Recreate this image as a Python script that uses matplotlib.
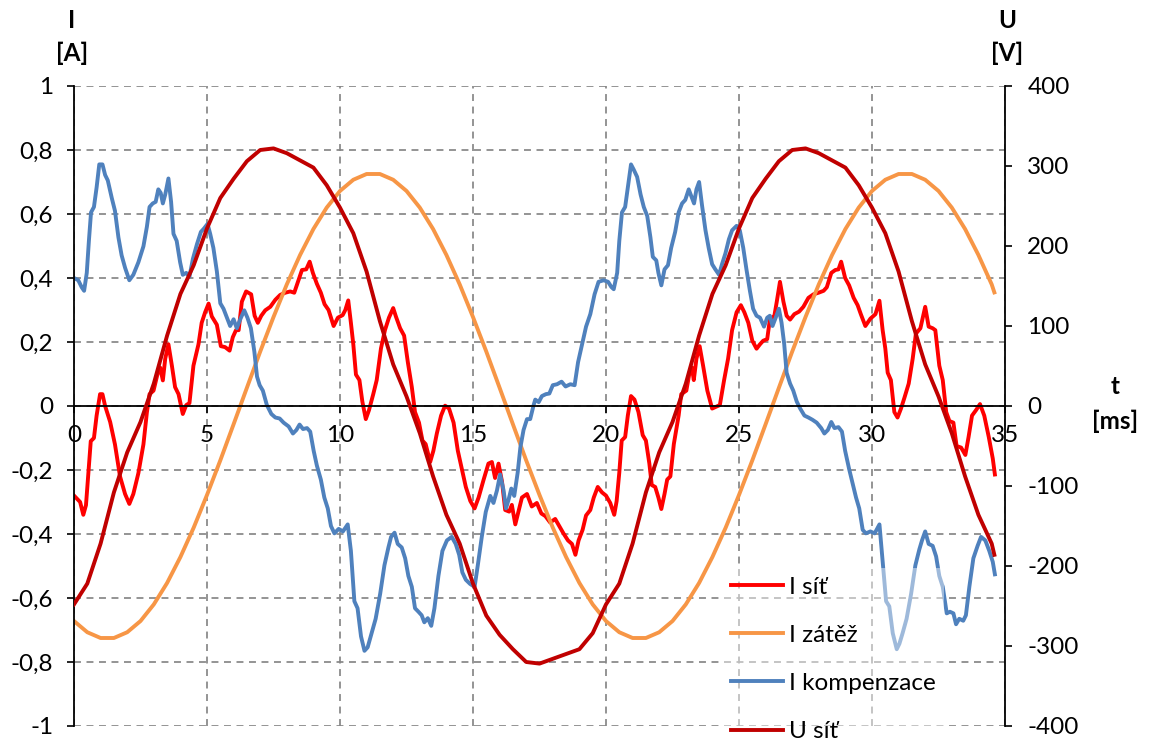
import numpy as np
import matplotlib
matplotlib.use("Agg")
import matplotlib.pyplot as plt
from matplotlib.ticker import FuncFormatter, MultipleLocator

plt.rcParams['font.family'] = ['Lato', 'DejaVu Sans']

# time base for the two smooth curves [ms]
t_grid = np.append(np.arange(0, 34.51, 0.5), 34.6)

# load current [A], read every 0.5 ms
i_zatez = [-0.672, -0.707, -0.725, -0.725, -0.707, -0.672, -0.620, -0.553, -0.472, -0.380,
           -0.278, -0.170, -0.057, 0.057, 0.170, 0.278, 0.380, 0.472, 0.553, 0.620,
           0.672, 0.707, 0.725, 0.725, 0.707, 0.672, 0.620, 0.553, 0.472, 0.380,
           0.278, 0.170, 0.057, -0.057, -0.170, -0.278, -0.380, -0.472, -0.553, -0.620,
           -0.672, -0.707, -0.725, -0.725, -0.707, -0.672, -0.620, -0.553, -0.472, -0.380,
           -0.278, -0.170, -0.057, 0.057, 0.170, 0.278, 0.380, 0.472, 0.553, 0.620,
           0.672, 0.707, 0.725, 0.725, 0.707, 0.672, 0.620, 0.553, 0.472, 0.380,
           0.355]

# grid voltage [V], read every 0.5 ms
u_sit = [-248, -222, -172, -108, -58, -20, 28, 88, 140, 176,
         222, 260, 284, 306, 320, 322, 316, 307, 298, 276,
         248, 216, 168, 106, 52, 12, -34, -88, -136, -172,
         -222, -262, -286, -304, -320, -322, -316, -310, -304, -284,
         -248, -222, -172, -108, -58, -20, 28, 88, 140, 176,
         222, 260, 284, 306, 320, 322, 316, 307, 298, 276,
         248, 216, 168, 106, 52, 12, -34, -88, -136, -172,
         -186]

# grid current [A]
t_sit = [0.0, 0.23, 0.35, 0.45, 0.54, 0.63, 0.75, 0.85, 0.98, 1.07,
         1.17, 1.36, 1.54, 1.73, 1.92, 2.08, 2.23, 2.42, 2.61, 2.74,
         2.84, 2.99, 3.14, 3.24, 3.34, 3.43, 3.55, 3.68, 3.8, 3.93,
         4.09, 4.22, 4.34, 4.49, 4.68, 4.8, 4.93, 5.06, 5.18, 5.37,
         5.52, 5.68, 5.85, 5.97, 6.09, 6.19, 6.31, 6.47, 6.66, 6.79,
         6.91, 7.04, 7.19, 7.38, 7.57, 7.75, 7.94, 8.13, 8.28, 8.44,
         8.57, 8.73, 8.86, 8.98, 9.13, 9.28, 9.42, 9.57, 9.76, 9.92,
         10.1, 10.2, 10.31, 10.41, 10.5, 10.6, 10.73, 10.84, 10.97, 11.09,
         11.25, 11.38, 11.54, 11.69, 11.84, 12.0, 12.1, 12.26, 12.41, 12.55,
         12.7, 12.82, 12.97, 13.1, 13.22, 13.39, 13.51, 13.64, 13.8, 13.95,
         14.1, 14.27, 14.43, 14.58, 14.73, 14.9, 15.06, 15.21, 15.4, 15.58,
         15.71, 15.83, 15.96, 16.09, 16.21, 16.36, 16.46, 16.59, 16.71, 16.84,
         17.03, 17.21, 17.4, 17.57, 17.72, 17.9, 18.09, 18.24, 18.4, 18.57,
         18.72, 18.85, 18.97, 19.12, 19.25, 19.41, 19.54, 19.69, 19.85, 20.0,
         20.16, 20.31, 20.4, 20.5, 20.59, 20.72, 20.82, 20.94, 21.07, 21.22,
         21.38, 21.5, 21.63, 21.72, 21.85, 21.97, 22.08, 22.2, 22.3, 22.42,
         22.55, 22.73, 22.83, 23.02, 23.14, 23.23, 23.3, 23.4, 23.52, 23.65,
         23.81, 23.99, 24.15, 24.28, 24.44, 24.59, 24.74, 24.91, 25.07, 25.2,
         25.35, 25.5, 25.66, 25.79, 25.91, 26.06, 26.16, 26.33, 26.42, 26.54,
         26.67, 26.79, 26.92, 27.08, 27.26, 27.42, 27.61, 27.8, 27.99, 28.18,
         28.3, 28.47, 28.62, 28.74, 28.84, 28.99, 29.14, 29.31, 29.46, 29.58,
         29.75, 29.94, 30.13, 30.28, 30.4, 30.5, 30.59, 30.71, 30.84, 30.96,
         31.09, 31.22, 31.38, 31.53, 31.65, 31.82, 32.0, 32.13, 32.28, 32.38,
         32.53, 32.66, 32.79, 32.91, 33.06, 33.18, 33.35, 33.51, 33.63, 33.76,
         33.91, 34.06, 34.22, 34.39, 34.54, 34.62]
i_sit = [-0.28, -0.30, -0.34, -0.31, -0.21, -0.11, -0.10, -0.03, 0.037, 0.037,
         0.0, -0.05, -0.12, -0.22, -0.275, -0.306, -0.275, -0.21, -0.12, -0.02,
         0.037, 0.048, 0.10, 0.12, 0.08, 0.148, 0.193, 0.126, 0.059, 0.037,
         -0.025, 0.003, 0.009, 0.126, 0.193, 0.26, 0.293, 0.32, 0.28, 0.254,
         0.187, 0.184, 0.173, 0.215, 0.237, 0.237, 0.326, 0.358, 0.349, 0.282,
         0.26, 0.282, 0.299, 0.31, 0.332, 0.347, 0.354, 0.358, 0.354, 0.393,
         0.425, 0.427, 0.451, 0.416, 0.382, 0.354, 0.318, 0.30, 0.25, 0.276,
         0.284, 0.30, 0.33, 0.26, 0.193, 0.098, 0.081, 0.014, -0.041, -0.013,
         0.037, 0.081, 0.18, 0.237, 0.276, 0.306, 0.28, 0.243, 0.22, 0.137,
         0.059, -0.019, -0.052, -0.108, -0.119, -0.175, -0.14, -0.086, -0.03, 0.001,
         -0.008, -0.052, -0.14, -0.197, -0.253, -0.297, -0.32, -0.286, -0.23, -0.18,
         -0.175, -0.225, -0.18, -0.236, -0.325, -0.33, -0.309, -0.37, -0.33, -0.286,
         -0.275, -0.314, -0.303, -0.336, -0.344, -0.364, -0.353, -0.375, -0.398, -0.42,
         -0.431, -0.465, -0.42, -0.387, -0.342, -0.325, -0.286, -0.253, -0.27, -0.28,
         -0.303, -0.34, -0.297, -0.208, -0.108, -0.097, -0.03, 0.031, 0.02, -0.019,
         -0.091, -0.108, -0.18, -0.247, -0.253, -0.286, -0.322, -0.275, -0.23, -0.22,
         -0.119, -0.03, 0.037, 0.048, 0.104, 0.12, 0.081, 0.148, 0.187, 0.126,
         0.048, -0.008, -0.002, 0.003, 0.081, 0.148, 0.237, 0.293, 0.315, 0.293,
         0.26, 0.204, 0.179, 0.193, 0.204, 0.209, 0.27, 0.282, 0.326, 0.388,
         0.326, 0.282, 0.27, 0.287, 0.295, 0.31, 0.338, 0.349, 0.354, 0.36,
         0.371, 0.416, 0.425, 0.427, 0.451, 0.40, 0.377, 0.338, 0.315, 0.287,
         0.25, 0.273, 0.287, 0.329, 0.237, 0.18, 0.104, 0.081, -0.019, -0.036,
         -0.008, 0.026, 0.07, 0.148, 0.226, 0.243, 0.31, 0.248, 0.243, 0.237,
         0.126, 0.081, -0.019, -0.047, -0.052, -0.125, -0.13, -0.153, -0.097, -0.03,
         -0.013, 0.006, -0.03, -0.097, -0.164, -0.214]

# compensation current [A]
t_komp = [0.0, 0.16, 0.29, 0.38, 0.48, 0.56, 0.64, 0.75, 0.85, 0.95,
          1.07, 1.17, 1.27, 1.42, 1.54, 1.67, 1.79, 1.92, 2.08, 2.23,
          2.42, 2.61, 2.74, 2.84, 2.96, 3.07, 3.17, 3.26, 3.34, 3.43,
          3.55, 3.65, 3.74, 3.86, 3.99, 4.09, 4.22, 4.34, 4.47, 4.62,
          4.77, 4.89, 5.02, 5.12, 5.24, 5.37, 5.5, 5.62, 5.75, 5.87,
          6.0, 6.12, 6.25, 6.4, 6.52, 6.65, 6.78, 6.88, 6.98, 7.1,
          7.25, 7.42, 7.57, 7.73, 7.88, 8.07, 8.23, 8.36, 8.48, 8.61,
          8.76, 8.88, 9.01, 9.13, 9.28, 9.41, 9.54, 9.66, 9.79, 9.95,
          10.11, 10.29, 10.41, 10.54, 10.66, 10.79, 10.92, 11.04, 11.19, 11.34,
          11.51, 11.67, 11.82, 11.92, 12.05, 12.17, 12.32, 12.45, 12.57, 12.7,
          12.82, 12.95, 13.07, 13.17, 13.3, 13.43, 13.55, 13.7, 13.85, 14.02,
          14.2, 14.35, 14.48, 14.6, 14.73, 14.89, 15.06, 15.18, 15.33, 15.48,
          15.65, 15.77, 15.9, 16.02, 16.15, 16.24, 16.34, 16.44, 16.55, 16.68,
          16.78, 16.9, 17.03, 17.15, 17.28, 17.34, 17.47, 17.59, 17.74, 17.87,
          18.0, 18.16, 18.33, 18.48, 18.66, 18.82, 18.95, 19.1, 19.25, 19.41,
          19.57, 19.72, 19.91, 20.08, 20.2, 20.29, 20.42, 20.5, 20.6, 20.72,
          20.82, 20.94, 21.04, 21.17, 21.3, 21.42, 21.55, 21.67, 21.76, 21.89,
          21.97, 22.08, 22.2, 22.33, 22.45, 22.6, 22.73, 22.86, 22.98, 23.11,
          23.21, 23.31, 23.4, 23.5, 23.61, 23.74, 23.86, 23.99, 24.11, 24.25,
          24.36, 24.49, 24.62, 24.74, 24.91, 25.03, 25.16, 25.28, 25.41, 25.53,
          25.66, 25.79, 25.94, 26.06, 26.16, 26.26, 26.38, 26.5, 26.6, 26.7,
          26.79, 26.92, 27.04, 27.17, 27.3, 27.46, 27.61, 27.76, 27.92, 28.09,
          28.21, 28.34, 28.47, 28.59, 28.74, 28.87, 28.99, 29.14, 29.27, 29.4,
          29.52, 29.65, 29.77, 29.94, 30.1, 30.28, 30.4, 30.53, 30.65, 30.78,
          30.93, 31.03, 31.15, 31.3, 31.47, 31.63, 31.78, 31.88, 32.0, 32.13,
          32.28, 32.41, 32.53, 32.66, 32.81, 32.93, 33.06, 33.16, 33.28, 33.43,
          33.53, 33.66, 33.81, 33.97, 34.1, 34.26, 34.41, 34.54, 34.62]
i_komp = [0.40, 0.393, 0.371, 0.36, 0.416, 0.516, 0.605, 0.622, 0.683, 0.755,
          0.755, 0.722, 0.705, 0.65, 0.61, 0.527, 0.471, 0.432, 0.393, 0.41,
          0.449, 0.499, 0.56, 0.622, 0.633, 0.638, 0.677, 0.666, 0.633, 0.661,
          0.711, 0.638, 0.538, 0.516, 0.449, 0.41, 0.416, 0.404, 0.46, 0.505,
          0.544, 0.555, 0.569, 0.538, 0.494, 0.421, 0.321, 0.304, 0.276, 0.25,
          0.271, 0.243, 0.271, 0.299, 0.276, 0.243, 0.17, 0.092, 0.065, 0.048,
          0.003, -0.025, -0.036, -0.039, -0.052, -0.064, -0.086, -0.075, -0.058, -0.072,
          -0.069, -0.08, -0.14, -0.186, -0.23, -0.286, -0.32, -0.375, -0.398, -0.384,
          -0.392, -0.37, -0.453, -0.61, -0.632, -0.72, -0.765, -0.754, -0.71, -0.665,
          -0.587, -0.498, -0.442, -0.409, -0.396, -0.431, -0.442, -0.476, -0.531, -0.565,
          -0.632, -0.643, -0.654, -0.676, -0.663, -0.687, -0.632, -0.531, -0.453, -0.42,
          -0.409, -0.431, -0.465, -0.52, -0.543, -0.556, -0.565, -0.498, -0.409, -0.331,
          -0.281, -0.303, -0.264, -0.214, -0.264, -0.32, -0.292, -0.258, -0.281, -0.208,
          -0.13, -0.075, -0.041, -0.041, 0.003, 0.02, 0.012, 0.031, 0.037, 0.039,
          0.065, 0.068, 0.076, 0.061, 0.068, 0.065, 0.137, 0.193, 0.248, 0.287,
          0.349, 0.388, 0.393, 0.388, 0.372, 0.365, 0.416, 0.516, 0.605, 0.622,
          0.683, 0.755, 0.739, 0.716, 0.661, 0.622, 0.594, 0.527, 0.466, 0.455,
          0.416, 0.377, 0.427, 0.44, 0.494, 0.544, 0.605, 0.633, 0.644, 0.677,
          0.655, 0.633, 0.677, 0.70, 0.627, 0.549, 0.494, 0.443, 0.427, 0.41,
          0.443, 0.477, 0.521, 0.549, 0.563, 0.549, 0.494, 0.427, 0.36, 0.304,
          0.282, 0.276, 0.248, 0.276, 0.282, 0.25, 0.276, 0.304, 0.26, 0.193,
          0.104, 0.07, 0.048, 0.014, -0.008, -0.03, -0.036, -0.043, -0.052, -0.069,
          -0.086, -0.075, -0.05, -0.069, -0.066, -0.08, -0.14, -0.197, -0.242, -0.286,
          -0.32, -0.387, -0.398, -0.392, -0.398, -0.37, -0.487, -0.61, -0.626, -0.71,
          -0.76, -0.743, -0.71, -0.665, -0.587, -0.498, -0.448, -0.42, -0.392, -0.431,
          -0.437, -0.47, -0.531, -0.565, -0.648, -0.643, -0.648, -0.682, -0.665, -0.671,
          -0.654, -0.565, -0.476, -0.437, -0.409, -0.42, -0.453, -0.487, -0.526]

FS = 17.5
W, H = 1149, 740

fig = plt.figure(figsize=(W / 100, H / 100), dpi=100)
ax = fig.add_axes([74 / W, (H - 726) / H, (1005 - 74) / W, (726 - 86) / H])
ax2 = ax.twinx()

# left axis: currents
ax.set_xlim(0, 35)
ax.set_ylim(-1, 1)
ax.xaxis.set_major_locator(MultipleLocator(5))
ax.yaxis.set_major_locator(MultipleLocator(0.2))


def comma(v, pos):
    v = round(v, 1)
    if v == 0:
        return "0"
    return ("%g" % v).replace(".", ",")


ax.yaxis.set_major_formatter(FuncFormatter(comma))
ax.xaxis.set_major_formatter(FuncFormatter(lambda v, p: "%d" % v))
ax.grid(True, color="#868686", linestyle=(0, (4.0, 3.2)), linewidth=1.25)
ax.set_axisbelow(True)

ax.spines["bottom"].set_position(("data", 0))
ax.spines["top"].set_visible(False)
ax.spines["right"].set_visible(False)
for s in ("bottom", "left"):
    ax.spines[s].set_linewidth(1.3)
ax.tick_params(axis="both", direction="out", length=5, width=1.2,
               labelsize=FS, colors="black")
ax.tick_params(axis="x", pad=9)
ax.tick_params(axis="y", pad=10)

# right axis: voltage
ax2.set_ylim(-400, 400)
ax2.yaxis.set_major_locator(MultipleLocator(100))
ax2.yaxis.set_major_formatter(FuncFormatter(lambda v, p: "%d" % v))
for s in ("top", "bottom", "left"):
    ax2.spines[s].set_visible(False)
ax2.spines["right"].set_linewidth(1.3)
ax2.tick_params(axis="y", direction="out", length=5, width=1.2,
                labelsize=FS, pad=11)

lw = 2.8
l1, = ax.plot(t_sit, i_sit, color="#FF0000", lw=lw, label="I síť",
              solid_joinstyle="round")
l2, = ax.plot(t_grid, i_zatez, color="#F79646", lw=lw, label="I zátěž",
              solid_joinstyle="round")
l3, = ax.plot(t_komp, i_komp, color="#4F81BD", lw=lw, label="I kompenzace",
              solid_joinstyle="round")
l4, = ax2.plot(t_grid, u_sit, color="#C00000", lw=lw, label="U síť",
               solid_joinstyle="round")

leg = ax2.legend(handles=[l1, l2, l3, l4], loc="upper left",
                 bbox_to_anchor=(722 / W, 1 - 568 / H),
                 bbox_transform=fig.transFigure, borderaxespad=0,
                 fontsize=FS, frameon=True, fancybox=False,
                 handlelength=2.15, handletextpad=0.25, labelspacing=1.12,
                 borderpad=0.35)
leg.get_frame().set_facecolor("white")
leg.get_frame().set_edgecolor("none")
leg.get_frame().set_alpha(0.45)

# axis titles
bold = dict(ha="center", va="center", fontsize=FS, fontweight="bold")
fig.text(72 / W, 1 - 20 / H, "I", **bold)
fig.text(72 / W, 1 - 53 / H, "[A]", **bold)
fig.text(1007 / W, 1 - 20 / H, "U", **bold)
fig.text(1007 / W, 1 - 53 / H, "[V]", **bold)
fig.text(1115 / W, 1 - 386 / H, "t", **bold)
fig.text(1115 / W, 1 - 421 / H, "[ms]", **bold)

fig.savefig("out.png", dpi=100)
